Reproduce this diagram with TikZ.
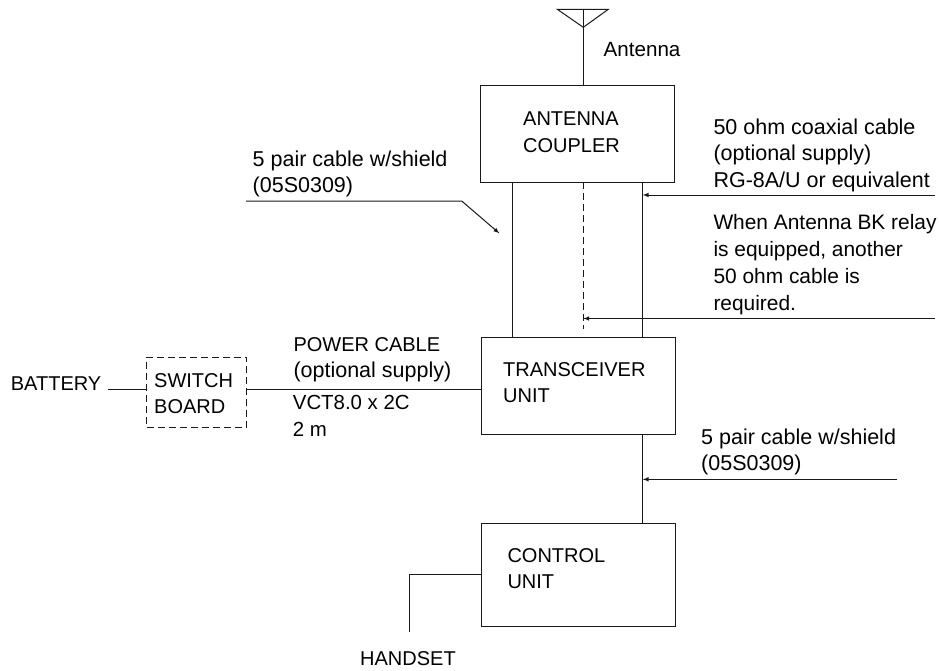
\documentclass[tikz,border=0pt]{standalone}
\usepackage{fontspec}
\setmainfont{Liberation Sans}
\usetikzlibrary{arrows}
\newcommand{\lowersize}{\fontsize{21.5}{26.5}\selectfont}

\begin{document}
\begin{tikzpicture}[x=1pt,y=-1pt,font=\fontsize{20}{26.5}\selectfont]
    \tikzstyle{unit} = [rectangle, minimum width=193.5pt, minimum height=96.7pt, inner sep=0pt, draw=black!90, line width=1pt]
    \tikzstyle{dashunit} = [rectangle, minimum width=100pt, minimum height=70pt, inner sep=0pt, draw=black!90, line width=1pt, dash pattern=on 7pt off 4pt]
    \tikzstyle{label} = [inner sep=0pt, align=left, anchor=north west]
    \tikzstyle{lowerlabel} = [label, font=\lowersize]
    \tikzstyle{wire} = [black!90, line width=1pt]
    \tikzstyle{arrow} = [wire,->,>=latex]

    \useasboundingbox (0,0) rectangle (939,670);

    \node (coupler) [unit] at (577.4,134) {};
    \node (transceiver) [unit] at (578.4,385.7) {};
    \node (control) [unit, minimum height=102.7pt] at (578.6,575.3) {};
    \node (switch) [dashunit] at (196.7,392.3) {};

    \node (couplertext) [label] at (523,111.7) {ANTENNA\\COUPLER};
    \node (transceivertext) [label] at (503,362.3) {TRANSCEIVER\\UNIT};
    \node (controltext) [label] at (507.3,548.3) {CONTROL\\UNIT};
    \node (switchtext) [label] at (154,373) {SWITCH\\BOARD};
    \node (antennatext) [label, font=\fontsize{20.6}{26}\selectfont] at (603.5,41.7) {Antenna};
    \node (coaxtext) [lowerlabel] at (713.3,118.3) {50 ohm coaxial cable\\(optional supply)\\RG-8A/U or equivalent};
    \node (relaytext) [lowerlabel, font=\fontsize{20.9}{27}\selectfont] at (713.3,214) {When Antenna BK relay\\is equipped, another\\50 ohm cable is\\required.};
    \node (pairtext) [lowerlabel] at (252.5,150.7) {5 pair cable w/shield\\(05S0309)};
    \node (pairtextb) [lowerlabel] at (701,428.7) {5 pair cable w/shield\\(05S0309)};
    \node (powertext) [label] at (293.3,337.3) {POWER CABLE\\{\lowersize (optional supply)}};
    \node (vcttext) [label, font=\fontsize{20.4}{26.7}\selectfont] at (292.7,395) {VCT8.0 x 2C\\2 m};
    \node (battery) [label] at (10.7,376.7) {BATTERY};
    \node (handset) [label] at (360,651.7) {HANDSET};

    \coordinate (apex) at (583.3,27.3);
    \coordinate (triL) at (557.3,9.3);
    \coordinate (triR) at (608.3,9.3);
    \coordinate (triT) at (583.3,9.3);
    \coordinate (coaxend) at (935,195);
    \coordinate (coaxtip) at (642.7,195);
    \coordinate (relayend) at (935,318.5);
    \coordinate (relaytip) at (583.3,318.5);
    \coordinate (dashtop) at (583.3,182.3);
    \coordinate (dashbot) at (583.3,329.3);
    \coordinate (pairend) at (897,479.3);
    \coordinate (pairtip) at (642.7,479.3);
    \coordinate (leadstart) at (246,201);
    \coordinate (leadbend) at (461.7,201);
    \coordinate (leadtip) at (499.3,233.3);
    \coordinate (batend) at (107.7,389);
    \coordinate (handbend) at (409.3,574.3);
    \coordinate (handend) at (409.3,631.7);

    \draw [wire] (triL) -- (triR) -- (apex) -- cycle;
    \draw [wire] (triT) -- (coupler.north -| triT);
    \draw [wire] (coupler.south -| 512,0) -- (transceiver.north -| 512,0);
    \draw [wire] (coupler.south -| 642.7,0) -- (transceiver.north -| 642.7,0);
    \draw [wire, dash pattern=on 7pt off 4pt] (dashtop) -- (dashbot);
    \draw [arrow] (coaxend) -- (coaxtip);
    \draw [arrow] (relayend) -- (relaytip);
    \draw [arrow] (pairend) -- (pairtip);
    \draw [wire] (transceiver.south -| 642.7,0) -- (control.north -| 642.7,0);
    \draw [arrow] (leadstart) -- (leadbend) -- (leadtip);
    \draw [wire] (switch.east |- batend) -- (transceiver.west |- batend);
    \draw [wire] (batend) -- (switch.west |- batend);
    \draw [wire] (control.west |- handbend) -- (handbend) -- (handend);
\end{tikzpicture}
\end{document}
